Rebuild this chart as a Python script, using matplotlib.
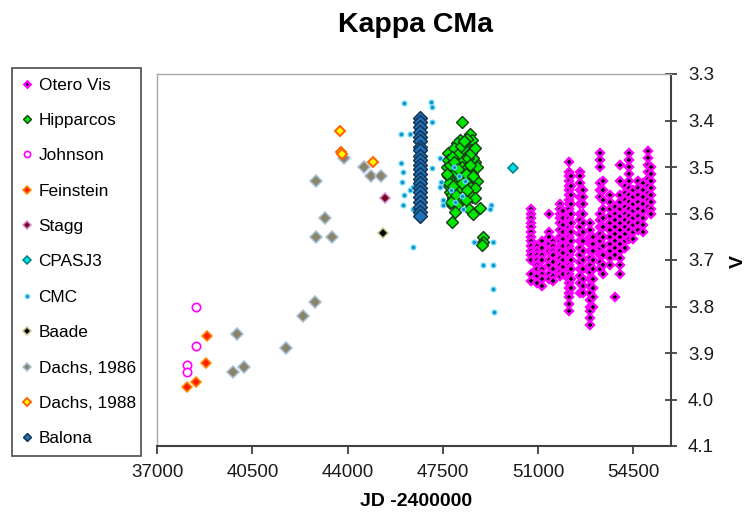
import matplotlib
matplotlib.use("Agg")
import matplotlib.pyplot as plt
from matplotlib.lines import Line2D
import numpy as np

plt.rcParams['font.family'] = ['Liberation Sans', 'DejaVu Sans']

# ---- data (JD - 2400000, V mag) ----
johnson_jd = [38420, 38420, 38080, 38080]
johnson_v = [3.80, 3.885, 3.925, 3.94]

feinstein_jd = [38815, 38790, 38420, 38080]
feinstein_v = [3.863, 3.922, 3.963, 3.974]

stagg_jd = [45370]
stagg_v = [3.567]

cpasj3_jd = [50065]
cpasj3_v = [3.503]

baade_jd = [45310]
baade_v = [3.641]

dachs86_jd = [39920, 39770, 40190, 41730, 42370, 42800, 42830, 43170, 42830, 43410,
              43860, 44600, 44850, 45210]
dachs86_v = [3.86, 3.94, 3.93, 3.89, 3.82, 3.79, 3.53, 3.61, 3.65, 3.65,
             3.48, 3.50, 3.52, 3.52]

dachs88_jd = [43715, 43750, 43790, 44940]
dachs88_v = [3.422, 3.468, 3.472, 3.490]

cmc_jd = [46070, 47060, 47110, 47110, 45980, 46290, 47390, 45950, 46020, 47110,
          45990, 47450, 47390, 46310, 46390, 47510, 47510, 46020, 46410, 48190,
          48250, 49290, 49230, 46410, 48640, 49330, 48960, 49330, 49350, 49390,
          47900, 48100, 47800, 48300, 46060, 47950]
cmc_v = [3.362, 3.360, 3.370, 3.403, 3.430, 3.430, 3.481, 3.491, 3.510, 3.503,
         3.532, 3.532, 3.542, 3.549, 3.542, 3.571, 3.582, 3.582, 3.590, 3.562,
         3.591, 3.582, 3.591, 3.671, 3.662, 3.662, 3.711, 3.711, 3.763, 3.811,
         3.500, 3.520, 3.550, 3.530, 3.560, 3.575]

balona_jd = [46650, 46660, 46645, 46655, 46660, 46650, 46645, 46660, 46655, 46650,
             46660, 46645, 46655, 46650, 46660, 46655, 46645, 46650, 46660, 46655,
             46650, 46655]
balona_v = [3.395, 3.404, 3.414, 3.425, 3.436, 3.445, 3.456, 3.464, 3.476, 3.485,
            3.496, 3.505, 3.514, 3.526, 3.535, 3.546, 3.554, 3.565, 3.576, 3.585,
            3.596, 3.606]

hip_jd = [48190, 48495, 48557, 48127, 48006, 48311, 48557, 48006, 48380, 47822,
          48190, 48680, 48740, 47880, 48250, 48557, 47822, 48130, 48740, 47950,
          48495, 48006, 48680, 47760, 48557, 47880, 48130, 48680, 47760, 48006,
          48860, 47950, 47850, 48962, 48962, 48940, 47650, 47700, 47700, 48400,
          48600, 48200, 48300, 47900, 48050, 48350, 48450, 48600, 47720, 47820,
          48100, 48420, 48250, 47980, 47680, 47760, 47840, 47900, 48060, 48160,
          48280, 48360, 48440, 48520, 48620, 48700, 47740, 47860, 48000, 48220,
          48380, 48500, 47660, 47800]
hip_v = [3.404, 3.428, 3.442, 3.442, 3.449, 3.456, 3.463, 3.470, 3.474, 3.489,
         3.485, 3.489, 3.500, 3.507, 3.510, 3.514, 3.525, 3.525, 3.530, 3.539,
         3.542, 3.549, 3.546, 3.553, 3.564, 3.567, 3.571, 3.567, 3.578, 3.582,
         3.589, 3.596, 3.618, 3.650, 3.661, 3.668, 3.500, 3.520, 3.470, 3.440,
         3.480, 3.500, 3.530, 3.460, 3.520, 3.570, 3.590, 3.600, 3.540, 3.560,
         3.470, 3.500, 3.460, 3.510, 3.485, 3.495, 3.478, 3.490, 3.505, 3.455,
         3.445, 3.515, 3.480, 3.470, 3.520, 3.460, 3.535, 3.540, 3.560, 3.535,
         3.550, 3.495, 3.515, 3.575]

# Otero visual estimates: one list of magnitudes per observing season (column)
otero_cols = [50760, 50950, 51130, 51400, 51560, 51800, 51920, 52140, 52230, 52540,
              52660, 52900, 53030, 53270, 53400, 53640, 53830, 54010, 54190, 54350,
              54500, 54680, 54870, 55050, 55170]
otero_v = [
    [3.59, 3.60, 3.61, 3.62, 3.63, 3.64, 3.65, 3.66, 3.67, 3.68, 3.69, 3.70, 3.73, 3.745],
    [3.67, 3.68, 3.69, 3.70, 3.71, 3.72, 3.735, 3.75],
    [3.66, 3.675, 3.69, 3.70, 3.72, 3.73, 3.74, 3.755],
    [3.60, 3.64, 3.65, 3.665, 3.68, 3.70, 3.71, 3.73, 3.74],
    [3.66, 3.67, 3.68, 3.69, 3.705, 3.72, 3.735, 3.745],
    [3.58, 3.59, 3.60, 3.61, 3.62, 3.635, 3.65, 3.66, 3.67, 3.68, 3.695, 3.71, 3.725, 3.735],
    [3.595, 3.61, 3.625, 3.64, 3.655, 3.67, 3.685, 3.70, 3.715, 3.73],
    [3.49, 3.51, 3.52, 3.53, 3.54, 3.55, 3.56, 3.57, 3.58, 3.59, 3.60, 3.61, 3.62, 3.63,
     3.64, 3.65, 3.66, 3.67, 3.68, 3.69, 3.70, 3.71, 3.72, 3.73, 3.74, 3.75, 3.76, 3.77,
     3.78, 3.795, 3.81],
    [3.52, 3.54, 3.56, 3.58, 3.60, 3.62, 3.64, 3.66, 3.68, 3.70, 3.72, 3.74, 3.76],
    [3.51, 3.52, 3.535, 3.55, 3.565, 3.58, 3.60, 3.615, 3.63, 3.645, 3.66, 3.675, 3.69,
     3.705, 3.72, 3.735, 3.75, 3.772],
    [3.55, 3.565, 3.58, 3.60, 3.62, 3.64, 3.66, 3.68, 3.70, 3.72, 3.74, 3.755, 3.77],
    [3.62, 3.635, 3.65, 3.665, 3.68, 3.695, 3.71, 3.725, 3.74, 3.755, 3.77, 3.785, 3.80,
     3.81, 3.825, 3.84],
    [3.65, 3.665, 3.68, 3.70, 3.72, 3.74, 3.76, 3.78, 3.80],
    [3.47, 3.485, 3.50, 3.535, 3.55, 3.565, 3.60, 3.615, 3.63, 3.645, 3.66, 3.675, 3.69,
     3.705, 3.72],
    [3.53, 3.55, 3.57, 3.59, 3.61, 3.63, 3.65, 3.67, 3.69, 3.71, 3.73],
    [3.56, 3.575, 3.59, 3.605, 3.62, 3.635, 3.65, 3.665, 3.68, 3.695, 3.71],
    [3.585, 3.60, 3.615, 3.63, 3.645, 3.66, 3.675, 3.69, 3.78],
    [3.495, 3.53, 3.56, 3.575, 3.59, 3.605, 3.62, 3.635, 3.65, 3.665, 3.68, 3.695, 3.71, 3.73],
    [3.54, 3.555, 3.57, 3.585, 3.60, 3.615, 3.63, 3.645, 3.66, 3.675],
    [3.47, 3.485, 3.50, 3.515, 3.53, 3.545, 3.56, 3.575, 3.59, 3.605, 3.62, 3.635, 3.655],
    [3.55, 3.565, 3.58, 3.595, 3.61, 3.625, 3.64, 3.655],
    [3.53, 3.545, 3.56, 3.575, 3.59, 3.605, 3.62, 3.635],
    [3.535, 3.55, 3.565, 3.58, 3.595, 3.61, 3.625, 3.64],
    [3.465, 3.48, 3.495, 3.51, 3.525, 3.54, 3.555, 3.57, 3.585],
    [3.50, 3.515, 3.53, 3.545, 3.56, 3.575, 3.59, 3.60],
]

xticks = [37000, 40500, 44000, 47500, 51000, 54500]
yticks = [3.3, 3.4, 3.5, 3.6, 3.7, 3.8, 3.9, 4.0, 4.1]

otero_jd = []
otero_mag = []
for jd, mags in zip(otero_cols, otero_v):
    otero_jd += [jd] * len(mags)
    otero_mag += mags

# series: label, x, y, marker, size, face, edge, edge width
series = [
    ('Otero Vis', otero_jd, otero_mag, 'D', 3.6, 'black', '#ff00ff', 1.7),
    ('Hipparcos', hip_jd, hip_v, 'D', 6.5, '#00e800', '#1a3a1a', 1.0),
    ('Johnson', johnson_jd, johnson_v, 'o', 6.0, 'white', '#ff00ff', 1.2),
    ('Feinstein', feinstein_jd, feinstein_v, 'D', 5.2, '#ff2000', '#ff8c00', 1.1),
    ('Stagg', stagg_jd, stagg_v, 'D', 5.2, '#7a0020', '#d090d0', 1.1),
    ('CPASJ3', cpasj3_jd, cpasj3_v, 'D', 5.2, '#00e0e8', '#008080', 1.1),
    ('CMC', cmc_jd, cmc_v, 'o', 3.3, '#1088c0', '#60d8f8', 1.0),
    ('Baade', baade_jd, baade_v, 'D', 5.2, 'black', '#c8c890', 1.1),
    ('Dachs, 1986', dachs86_jd, dachs86_v, 'D', 6.5, '#8a8468', '#a8c0d8', 1.1),
    ('Dachs, 1988', dachs88_jd, dachs88_v, 'D', 5.5, '#ffff00', '#ff6000', 1.4),
    ('Balona', balona_jd, balona_v, 'D', 6.8, '#1f70b8', '#10304c', 1.0),
]

fig = plt.figure(figsize=(7.49, 5.12), dpi=100)
ax = fig.add_axes([157.3/749, 1-446/512, (670.7-157.3)/749, (446-74)/512])

handles = []
for lab, xs, ys, mk, ms, fc, ec, ew in series:
    ax.plot(xs, ys, linestyle='none', marker=mk, markersize=ms,
            markerfacecolor=fc, markeredgecolor=ec, markeredgewidth=ew)
    handles.append(Line2D([], [], linestyle='none', marker=mk,
                          markersize=min(ms, 5.0) * 0.9,
                          markerfacecolor=fc, markeredgecolor=ec,
                          markeredgewidth=ew, label=lab))

ax.set_xlim(37000, 55880)
ax.set_ylim(4.1, 3.3)
ax.set_xticks(xticks)
ax.set_xticklabels([str(t) for t in xticks])
ax.set_yticks(yticks)
ax.set_yticklabels(['%.1f' % t for t in yticks])
ax.yaxis.tick_right()

ax.tick_params(axis='x', direction='out', length=6, width=1.2, color='#303030',
               labelsize=13.5, pad=7, labelcolor='#1a1a1a')
ax.tick_params(axis='y', direction='inout', length=9, width=1.2, color='#303030',
               labelsize=13.5, pad=8, labelcolor='#1a1a1a')

for s in ['left', 'top']:
    ax.spines[s].set_color('#a8a8a8')
    ax.spines[s].set_linewidth(1.0)
for s in ['right', 'bottom']:
    ax.spines[s].set_color('#404040')
    ax.spines[s].set_linewidth(1.5)

fig.text(416/749, 1-25/512, 'Kappa CMa', ha='center', va='center',
         fontsize=20.5, fontweight='bold')
fig.text(416/749, 1-501/512, 'JD -2400000', ha='center', va='center',
         fontsize=14, fontweight='bold')
fig.text(738/749, 1-262/512, 'V', ha='center', va='center', rotation=90,
         fontsize=14, fontweight='bold')

leg = fig.legend(handles=handles, loc='upper left',
                 bbox_to_anchor=(12/749, 1-455/512, 129/749, 387/512),
                 bbox_transform=fig.transFigure, mode='expand',
                 fontsize=12.4, frameon=True, fancybox=False, borderaxespad=0,
                 borderpad=0.55, labelspacing=1.18, handlelength=0.66,
                 handletextpad=0.33, numpoints=1)
leg.get_frame().set_edgecolor('#303030')
leg.get_frame().set_linewidth(1.3)

plt.savefig('out.png', dpi=100)
